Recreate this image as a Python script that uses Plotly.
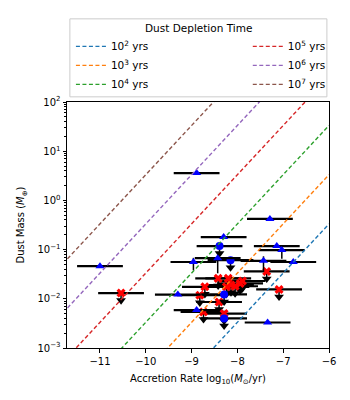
import numpy as np
import plotly.graph_objects as go

# dust depletion timescales (yr) for the guide lines
dep_times = [1e2, 1e3, 1e4, 1e5, 1e6, 1e7]
dep_labels = ["10<sup>2</sup> yrs", "10<sup>3</sup> yrs", "10<sup>4</sup> yrs",
              "10<sup>5</sup> yrs", "10<sup>6</sup> yrs", "10<sup>7</sup> yrs"]
dep_colors = ["#1f77b4", "#ff7f0e", "#2ca02c", "#d62728", "#9467bd", "#8c564b"]
MSUN_TO_MEARTH = 333000.0
DUST_TO_GAS = 0.01
line_logacc = [-12.0, -6.0]

ACC_ERR = 0.5  # dex, horizontal error on accretion rate

# detections (blue triangles)
det_logacc = [-8.89, -7.29, -8.30, -7.14, -7.03, -8.96, -8.43, -7.43, -6.78, -11.0, -9.30, -8.89, -7.34]
det_mdust = [3.6, 0.42, 0.18, 0.118, 0.098, 0.056, 0.067, 0.059, 0.056, 0.046, 0.0122, 0.0059, 0.0033]
det_err_hi = [0, 0, 0, 0, 0.025, 0.012, 0.018, 0.014, 0, 0, 0, 0, 0]
det_err_lo = [0, 0, 0, 0, 0.033, 0.018, 0.034, 0.023, 0, 0, 0, 0, 0]

# upper limits, blue circles
ulb_logacc = [-8.39, -8.15, -8.29, -8.29]
ulb_mdust = [0.118, 0.061, 0.0123, 0.0040]

# upper limits, red crosses
ulr_logacc = [-10.54, -7.36, -7.09, -8.42, -8.20, -8.14, -8.24, -8.05, -7.94, -7.89,
              -8.71, -8.82, -8.40, -8.29, -8.74]
ulr_mdust = [0.0131, 0.036, 0.0155, 0.026, 0.026, 0.019, 0.0175, 0.018, 0.0205, 0.023,
             0.0175, 0.0118, 0.0086, 0.0050, 0.0054]

fig = go.Figure()

font = "DejaVu Sans"


def add_limits(xs, ys, symbol, color, size):
    ys = np.array(ys)
    # arrow shaft
    fig.add_trace(go.Scatter(
        x=xs, y=ys, mode="markers", showlegend=False,
        marker=dict(size=0.1, color="black"),
        error_x=dict(type="constant", value=ACC_ERR, color="black", thickness=2.2, width=0),
        error_y=dict(type="data", symmetric=False, array=[0] * len(ys),
                     arrayminus=ys * (1 - 10 ** -0.19), color="black", thickness=1.5, width=0),
    ))
    # arrow heads
    fig.add_trace(go.Scatter(
        x=xs, y=ys * 10 ** -0.15, mode="markers", showlegend=False,
        marker=dict(symbol="triangle-down", size=8.5, color="black"),
    ))
    fig.add_trace(go.Scatter(
        x=xs, y=ys, mode="markers", showlegend=False,
        marker=dict(symbol=symbol, size=size, color=color, line=dict(width=0)),
    ))


add_limits(ulr_logacc, ulr_mdust, "x", "red", 8)
add_limits(ulb_logacc, ulb_mdust, "circle", "blue", 8)

fig.add_trace(go.Scatter(
    x=det_logacc, y=det_mdust, mode="markers", showlegend=False,
    marker=dict(symbol="triangle-up", size=8, color="blue", line=dict(width=0)),
    error_x=dict(type="constant", value=ACC_ERR, color="black", thickness=2.2, width=0),
    error_y=dict(type="data", symmetric=False, array=det_err_hi, arrayminus=det_err_lo,
                 color="black", thickness=1.5, width=0),
))

for i, (t, lab, col) in enumerate(zip(dep_times, dep_labels, dep_colors)):
    ys = [10 ** xa * t * MSUN_TO_MEARTH * DUST_TO_GAS for xa in line_logacc]
    fig.add_trace(go.Scatter(
        x=line_logacc, y=ys, mode="lines", name=lab,
        line=dict(color=col, width=1.4, dash="4px,2.5px"),
        legend="legend" if i < 3 else "legend2",
    ))

# legend frame and title
fig.add_shape(type="rect", xref="paper", yref="paper", x0=0.011, x1=0.992, y0=1.021, y1=1.338,
              line=dict(color="#cccccc", width=1), fillcolor="rgba(255,255,255,0.8)", layer="above")
fig.add_annotation(text="Dust Depletion Time", xref="paper", yref="paper", x=0.5, y=1.302,
                   showarrow=False, font=dict(size=10.5, color="black", family=font),
                   xanchor="center", yanchor="middle")

minor_y = [m * 10.0 ** e for e in range(-3, 2) for m in range(2, 10)]

leg_common = dict(yanchor="top", xanchor="left", bgcolor="rgba(0,0,0,0)", borderwidth=0,
                  font=dict(size=10.5, color="black", family=font), itemwidth=30,
                  tracegroupgap=0)
# page body keeps an 8px margin, so the figure is 8px smaller and shifted
fig.update_layout(
    width=342, height=392,
    margin=dict(l=59, r=21, t=94, b=52, autoexpand=False),
    paper_bgcolor="white", plot_bgcolor="white",
    font=dict(family=font, size=10, color="black"),
    legend=dict(x=0.015, y=1.285, **leg_common),
    legend2=dict(x=0.69, y=1.285, **leg_common),
    xaxis=dict(range=[-11.72, -6], tickvals=[-11, -10, -9, -8, -7, -6],
               showline=True, linecolor="black", linewidth=1, mirror=True,
               ticks="outside", ticklen=3.5, tickcolor="black", showgrid=False, zeroline=False,
               title=dict(text="Accretion Rate log<sub>10</sub>(<i>M</i><sub>⊙</sub>/yr)",
                          font=dict(size=10), standoff=9)),
    yaxis=dict(type="log", range=[-3, 2],
               tickvals=[1e-3, 1e-2, 1e-1, 1, 10, 100],
               ticktext=["10<sup>−3</sup>", "10<sup>−2</sup>", "10<sup>−1</sup>",
                         "10<sup>0</sup>", "10<sup>1</sup>", "10<sup>2</sup>"],
               showline=True, linecolor="black", linewidth=1, mirror=True,
               ticks="outside", ticklen=3.5, tickcolor="black", showgrid=False, zeroline=False,
               minor=dict(tickvals=minor_y, ticks="outside", ticklen=2, tickcolor="black",
                          showgrid=False),
               title=dict(text="Dust Mass (<i>M</i><sub>⊕</sub>)", font=dict(size=10), standoff=10)),
)

fig.write_html("out.html")
